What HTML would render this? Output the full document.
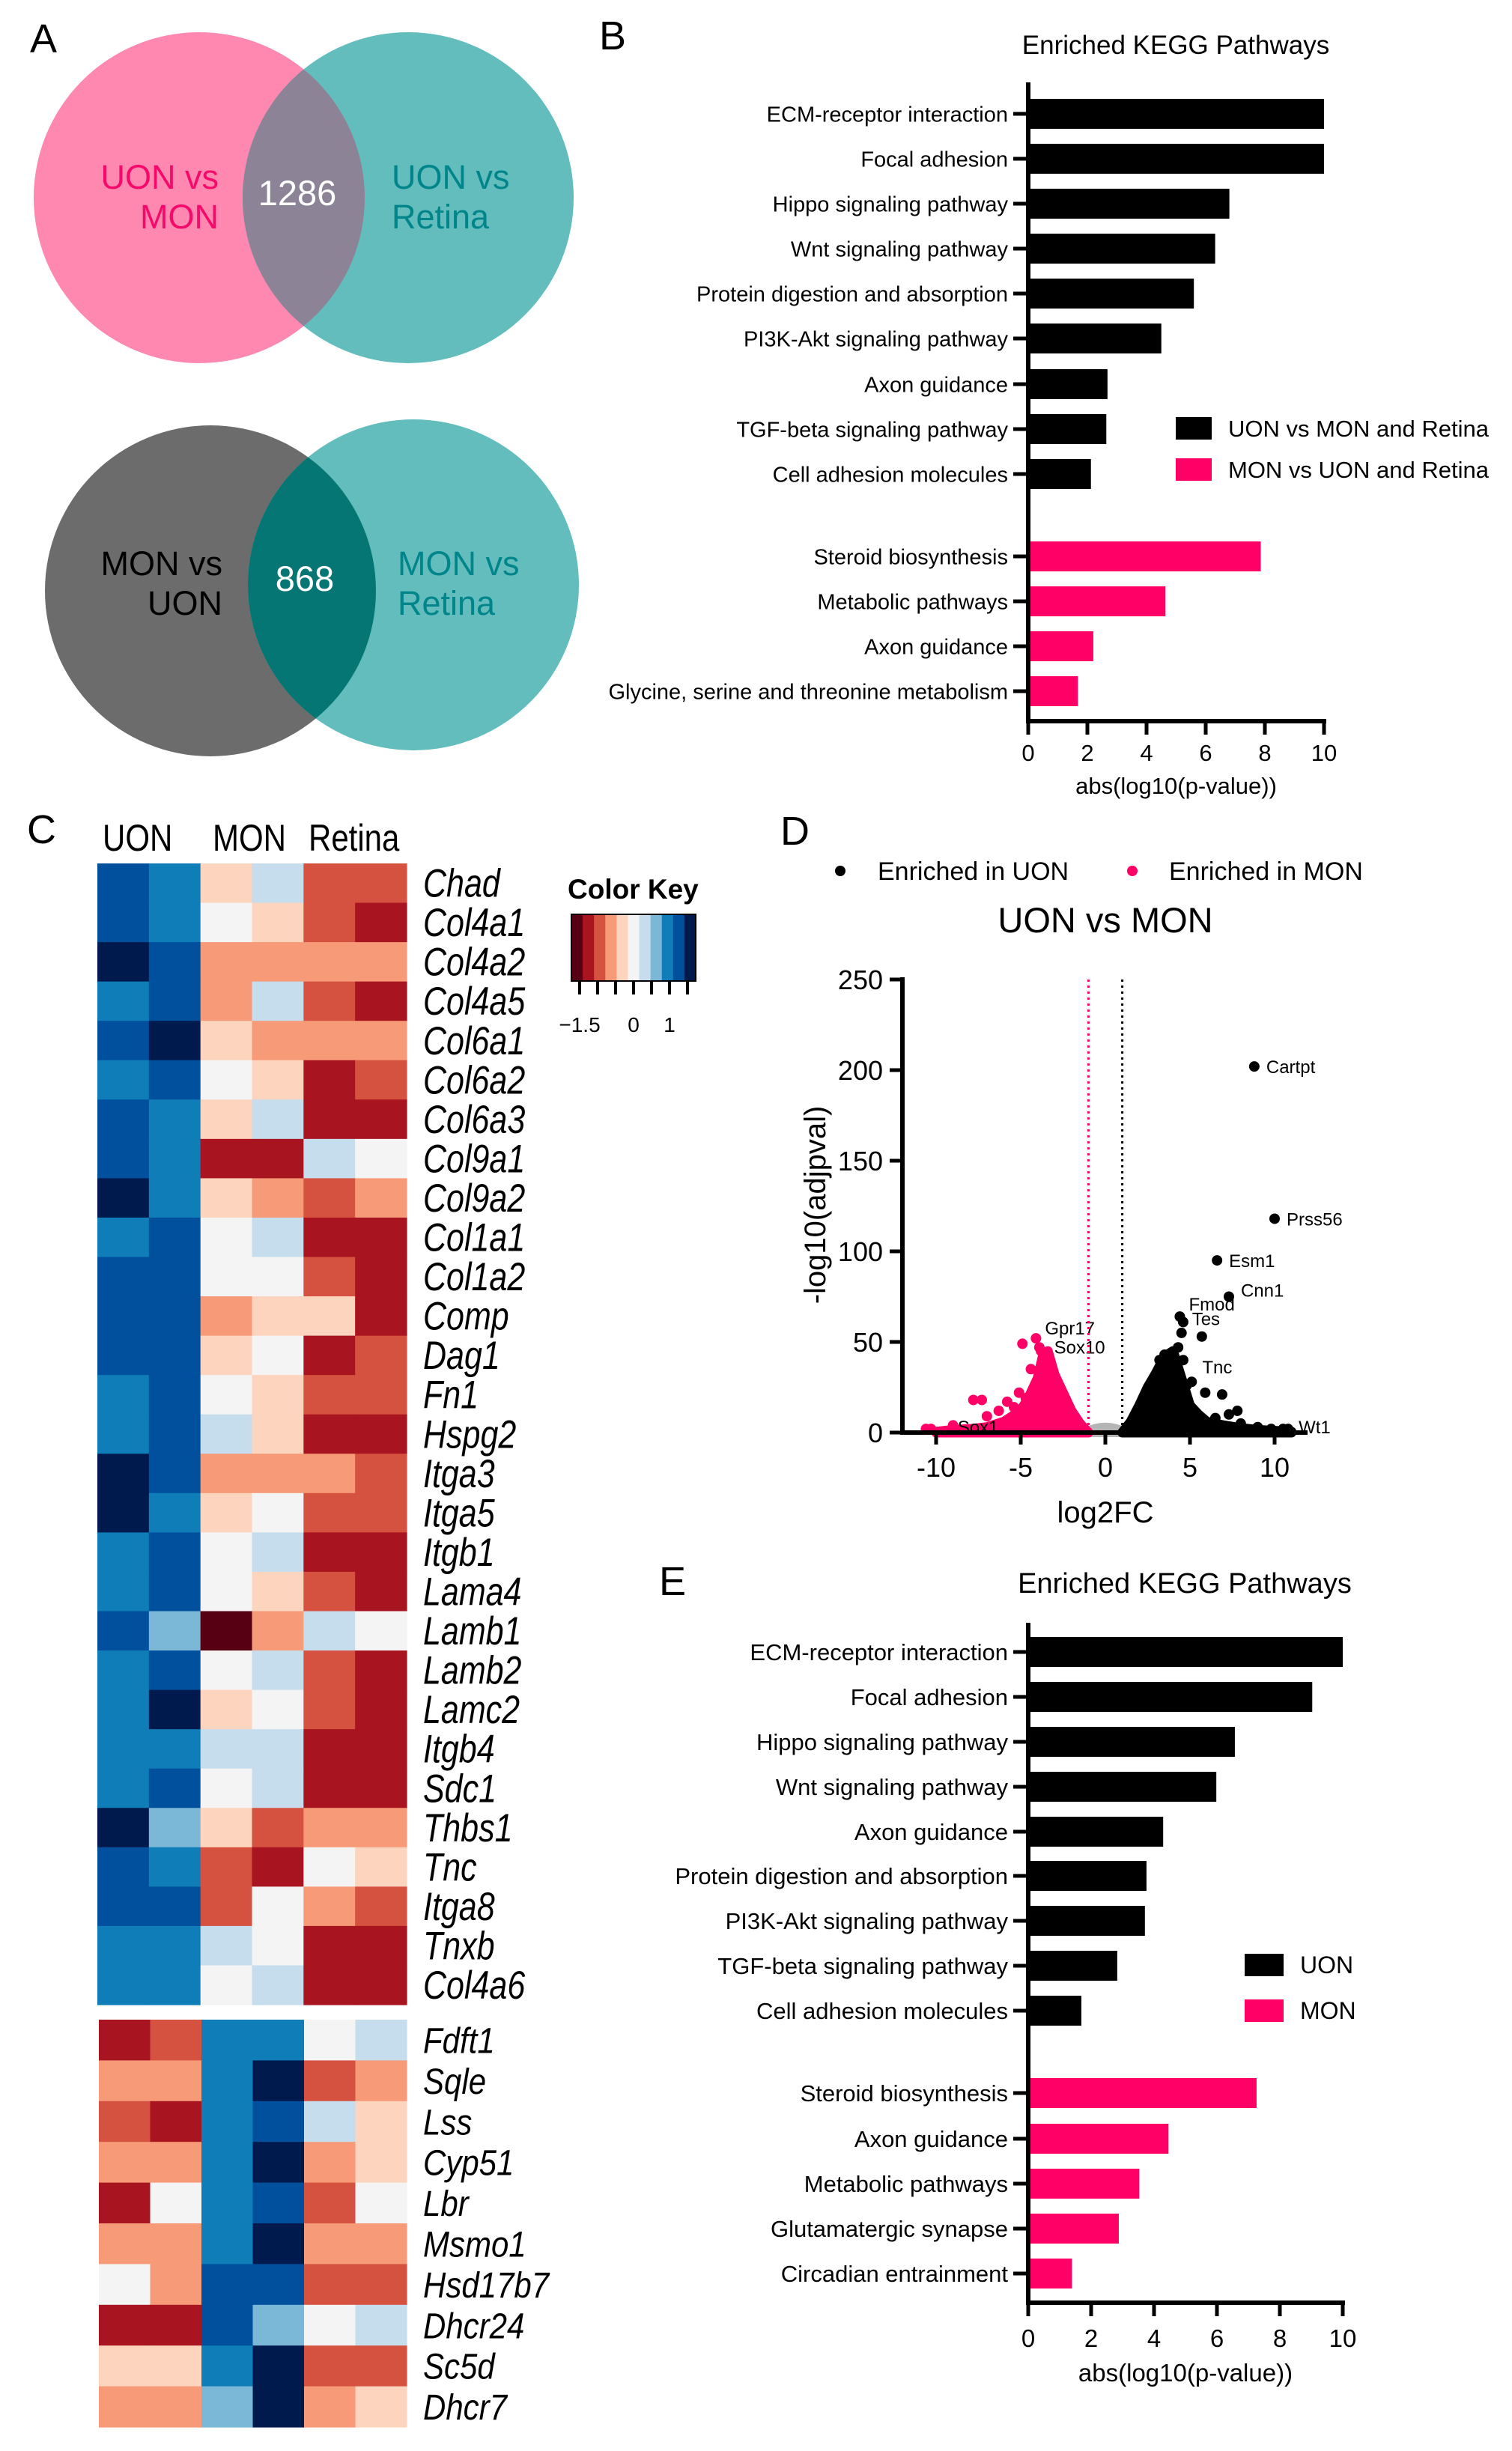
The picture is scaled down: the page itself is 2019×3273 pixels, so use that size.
<!DOCTYPE html>
<html><head><meta charset="utf-8"><style>
html,body{margin:0;padding:0;background:#fff;}
svg{display:block;font-family:"Liberation Sans",Arial,sans-serif;}
</style></head><body>
<svg id="fig" width="2019" height="3273" viewBox="0 0 2019 3273" xmlns="http://www.w3.org/2000/svg">
<g>
<text x="40" y="70" font-size="54">A</text>
<ellipse cx="266" cy="264" rx="221" ry="221" fill="#fe88b0"/>
<ellipse cx="545" cy="264" rx="221" ry="221" fill="#62bdbc"/>
<clipPath id="c1"><ellipse cx="266" cy="264" rx="221" ry="221"/></clipPath>
<ellipse cx="545" cy="264" rx="221" ry="221" fill="#8c8396" clip-path="url(#c1)"/>
<text x="292" y="252" font-size="45" fill="#f50a6b" text-anchor="end">UON vs</text>
<text x="292" y="305" font-size="45" fill="#f50a6b" text-anchor="end">MON</text>
<text x="397" y="274" font-size="47" fill="#fff" text-anchor="middle">1286</text>
<text x="523" y="252" font-size="45" fill="#00858a">UON vs</text>
<text x="523" y="305" font-size="45" fill="#00858a">Retina</text>

<ellipse cx="281" cy="789" rx="221" ry="221" fill="#6c6c6c"/>
<ellipse cx="552" cy="781" rx="221" ry="221" fill="#62bdbc"/>
<clipPath id="c2"><ellipse cx="281" cy="789" rx="221" ry="221"/></clipPath>
<ellipse cx="552" cy="781" rx="221" ry="221" fill="#057673" clip-path="url(#c2)"/>
<text x="297" y="768" font-size="45" fill="#000" text-anchor="end">MON vs</text>
<text x="297" y="821" font-size="45" fill="#000" text-anchor="end">UON</text>
<text x="407" y="789" font-size="47" fill="#fff" text-anchor="middle">868</text>
<text x="531" y="768" font-size="45" fill="#00858a">MON vs</text>
<text x="531" y="821" font-size="45" fill="#00858a">Retina</text>
</g>
<text x="800" y="66" font-size="54">B</text>
<text x="36" y="1126" font-size="54">C</text>
<text x="1042" y="1128" font-size="54">D</text>
<text x="880" y="2130" font-size="54">E</text>
<g id="gB"></g><g id="gC"></g><g id="gD"></g><g id="gE"></g>
</svg>
<script>
const bLabels = ["ECM-receptor interaction","Focal adhesion","Hippo signaling pathway","Wnt signaling pathway","Protein digestion and absorption","PI3K-Akt signaling pathway","Axon guidance","TGF-beta signaling pathway","Cell adhesion molecules","Steroid biosynthesis","Metabolic pathways","Axon guidance","Glycine, serine and threonine metabolism"];
const bValues = [10,10,6.8,6.32,5.6,4.5,2.68,2.64,2.12,7.86,4.64,2.2,1.68];
const bGroups = ["u","u","u","u","u","u","u","u","u","m","m","m","m"];
const eLabels = ["ECM-receptor interaction","Focal adhesion","Hippo signaling pathway","Wnt signaling pathway","Axon guidance","Protein digestion and absorption","PI3K-Akt signaling pathway","TGF-beta signaling pathway","Cell adhesion molecules","Steroid biosynthesis","Axon guidance","Metabolic pathways","Glutamatergic synapse","Circadian entrainment"];
const eValues = [10,9.03,6.57,5.98,4.29,3.76,3.71,2.83,1.69,7.26,4.46,3.53,2.88,1.39];
const eGroups = ["u","u","u","u","u","u","u","u","u","m","m","m","m","m"];
const xTicks = [0,2,4,6,8,10];
const hmGenes1 = ["Chad","Col4a1","Col4a2","Col4a5","Col6a1","Col6a2","Col6a3","Col9a1","Col9a2","Col1a1","Col1a2","Comp","Dag1","Fn1","Hspg2","Itga3","Itga5","Itgb1","Lama4","Lamb1","Lamb2","Lamc2","Itgb4","Sdc1","Thbs1","Tnc","Itga8","Tnxb","Col4a6"];
const hmValues1 = [
[4,3,-1,1,-3,-3],[4,3,0,-1,-3,-4],[5,4,-2,-2,-2,-2],[3,4,-2,1,-3,-4],[4,5,-1,-2,-2,-2],
[3,4,0,-1,-4,-3],[4,3,-1,1,-4,-4],[4,3,-4,-4,1,0],[5,3,-1,-2,-3,-2],[3,4,0,1,-4,-4],
[4,4,0,0,-3,-4],[4,4,-2,-1,-1,-4],[4,4,-1,0,-4,-3],[3,4,0,-1,-3,-3],[3,4,1,-1,-4,-4],
[5,4,-2,-2,-2,-3],[5,3,-1,0,-3,-3],[3,4,0,1,-4,-4],[3,4,0,-1,-3,-4],[4,2,-5,-2,1,0],
[3,4,0,1,-3,-4],[3,5,-1,0,-3,-4],[3,3,1,1,-4,-4],[3,4,0,1,-4,-4],[5,2,-1,-3,-2,-2],
[4,3,-3,-4,0,-1],[4,4,-3,0,-2,-3],[3,3,1,0,-4,-4],[3,3,0,1,-4,-4]];
const hmGenes2 = ["Fdft1","Sqle","Lss","Cyp51","Lbr","Msmo1","Hsd17b7","Dhcr24","Sc5d","Dhcr7"];
const hmValues2 = [
[-4,-3,3,3,0,1],[-2,-2,3,5,-3,-2],[-3,-4,3,4,1,-1],[-2,-2,3,5,-2,-1],[-4,0,3,4,-3,0],
[-2,-2,3,5,-2,-2],[0,-2,4,4,-3,-3],[-4,-4,4,2,0,1],[-1,-1,3,5,-3,-3],[-2,-2,2,5,-2,-1]];
const hmGroups = ["UON","MON","Retina"];
const keyTickLabels = ["−1.5","0","1"];
const vxTicks = [-10,-5,0,5,10];
const vyTicks = [0,50,100,150,200,250];
const monEnvelopeFC = [-1,-1.5,-2,-2.5,-3,-3.4,-3.7,-4,-4.5,-5,-6,-7,-8,-9,-10];
const monEnvelopeP = [0,5,12,22,32,45,42,30,20,12,6,3,2,1.5,0.5];
const uonEnvelopeFC = [1,1.5,2,2.5,3,3.5,4,4.5,5,5.5,6,7,8,9,10,11];
const uonEnvelopeP = [0,6,15,25,33,42,45,30,15,10,6,4,2.5,1.5,1,0.5];
const monPointFC = [-4.9,-4.1,-3.9,-3.8,-5.1,-4.7,-7.8,-7.3,-6.3,-7,-5.4,-9,-10.6,-10.3,-5.8,-3.6,-4.4];
const monPointP = [49,52,47,45,22,19,18,18,12,9,14,4,2,2,17,40,35];
const uonPointFC = [4.4,4.6,4.5,5.7,4.3,4.6,5.1,4.8,5.9,6.9,7.3,7.8,6.5,8,9,9.8,10.5,10.8,3.5,3.9,4.2,8.8,10,6.6,7.3,3.2,3.8];
const uonPointP = [64,61,55,53,47,40,28,26,22,21,10,12,8,5,3,2,2,2,43,44,38,202,118,95,75,40,36];
const geneLabels = ["Cartpt","Prss56","Esm1","Cnn1","Fmod","Tes","Tnc","Wt1","Gpr17","Sox10","Sox1"];
const geneFC = [8.8,10,6.6,7.3,4.4,4.5,5.9,10.8,-4.1,-4.0,-10.5];
const geneP = [202,118,95,75,64,61,22,2,52,47,2];

const NS="http://www.w3.org/2000/svg";
function mk(tag,attrs,parent,txt){const e=document.createElementNS(NS,tag);for(const k in attrs)e.setAttribute(k,attrs[k]);if(txt!==undefined)e.textContent=txt;parent.appendChild(e);return e;}
const PINK="#ff0066";

function barChart(g,cfg,labels,values,groups,legendNames){
  const xs=v=>cfg.x0+(cfg.x10-cfg.x0)*v/10;
  const t=mk('text',{x:cfg.titleX,y:cfg.titleY,'font-size':cfg.titleSize,'text-anchor':'middle'},g,"Enriched KEGG Pathways");
  
  
  labels.forEach((lab,i)=>{
    const y=cfg.rows[i];
    const r=mk('rect',{x:xs(0),y:y-cfg.bh/2,width:xs(values[i])-xs(0),height:cfg.bh,fill:groups[i]==="u"?"#000":PINK},g);
    
    
    mk('line',{x1:xs(0)-20,x2:xs(0),y1:y,y2:y,stroke:"#000","stroke-width":5},g);
    const tl=mk('text',{x:xs(0)-27,y:y+cfg.ls*0.36,'font-size':cfg.ls,'text-anchor':'end'},g,lab);
    
    
  });
  const ya=mk('line',{x1:xs(0),x2:xs(0),y1:cfg.axTop,y2:cfg.axBot,stroke:"#000","stroke-width":6},g);
  
  
  const xa=mk('line',{x1:xs(0)-3,x2:xs(10)+3,y1:cfg.axBot,y2:cfg.axBot,stroke:"#000","stroke-width":6},g);
  
  
  xTicks.forEach(v=>{
    mk('line',{x1:xs(v),x2:xs(v),y1:cfg.axBot,y2:cfg.axBot+18,stroke:"#000","stroke-width":5},g);
    const tt=mk('text',{x:xs(v),y:cfg.tickY,'font-size':cfg.ls+2,'text-anchor':'middle'},g,String(v));
    
    
  });
  const at=mk('text',{x:(xs(0)+xs(10))/2,y:cfg.axTitleY,'font-size':cfg.ls+2,'text-anchor':'middle'},g,"abs(log10(p-value))");
  
  
  legendNames.forEach((n,i)=>{
    const ly=cfg.legY[i];
    const sw=mk('rect',{x:cfg.legX,y:ly-15,width:cfg.legW,height:30,fill:i===0?"#000":PINK},g);
    
    
    const lt=mk('text',{x:cfg.legX+cfg.legW+22,y:ly+11,'font-size':cfg.legSize},g,n);
    
    
  });
}
barChart(document.getElementById('gB'),{x0:1373,x10:1768,titleX:1570,titleY:72,titleSize:35,bh:40,ls:29,axTop:110,axBot:963,tickY:1016,axTitleY:1060,legX:1570,legW:48,legY:[572,627],legSize:31,
 rows:[152,212,272,332,392,452,513,573,633,743,803,863,923]},bLabels,bValues,bGroups,["UON vs MON and Retina","MON vs UON and Retina"]);
barChart(document.getElementById('gE'),{x0:1373,x10:1793,titleX:1582,titleY:2127,titleSize:38,bh:40,ls:31,axTop:2167,axBot:3075,tickY:3134,axTitleY:3180,legX:1662,legW:52,legY:[2624,2685],legSize:32,
 rows:[2206,2266,2326,2386,2446,2505,2565,2625,2685,2795,2856,2916,2976,3036]},eLabels,eValues,eGroups,["UON","MON"]);

const palette={"-5":"#570014","-4":"#a8141f","-3":"#d55140","-2":"#f69a77","-1":"#fdd4bd","0":"#f4f4f4","1":"#c5dded","2":"#7bb7d6","3":"#0f7db7","4":"#00509e","5":"#001a4d"};
(function(){
  const g=document.getElementById('gC');
  hmGroups.forEach((n,i)=>{
    const t=mk('text',{x:0,y:0,'font-size':42,transform:`translate(${i==0?137:i==1?284:412},1136) scale(1,1.2)`},g,n);
    
    
  });
  function block(genes,vals,x0,x1,y0,y1,sy,fs){
    const cw=(x1-x0)/6,rh=(y1-y0)/genes.length;
    genes.forEach((gn,r)=>{
      vals[r].forEach((v,c)=>{
        const rc=mk('rect',{x:x0+c*cw,y:y0+r*rh,width:cw+0.6,height:rh+0.6,fill:palette[String(v)]},g);
        
        
      });
      const t=mk('text',{x:0,y:0,'font-size':fs,'font-style':'italic',transform:`translate(565,${y0+(r+0.5)*rh+15*sy}) scale(1,${sy})`},g,gn);
      
      
    });
  }
  block(hmGenes1,hmValues1,130,543,1153,2677,1.22,43);
  block(hmGenes2,hmValues2,132,543,2697,3241,1.15,42);
  const kt=mk('text',{x:758,y:1200,'font-size':37,'font-weight':'bold'},g,"Color Key");
  
  
  const keys=[-5,-4,-3,-2,-1,0,1,2,3,4,5];
  const kw=(929-763)/11;
  keys.forEach((k,i)=>{
    const r=mk('rect',{x:763+i*kw,y:1221,width:kw+0.5,height:89,fill:palette[String(k)]},g);
    
    
  });
  mk('rect',{x:763,y:1221,width:166,height:89,fill:"none",stroke:"#000","stroke-width":2},g);
  [774,798,822,846,870,894,918].forEach(x=>mk('line',{x1:x,x2:x,y1:1310,y2:1328,stroke:"#000","stroke-width":4},g));
  [[774,0],[846,1],[894,2]].forEach(([x,i])=>{
    const t=mk('text',{x:x,y:1378,'font-size':28,'text-anchor':'middle'},g,keyTickLabels[i]);
    
    
  });
})();

(function(){
  const g=document.getElementById('gD');
  const X=v=>1476+22.6*v, Y=v=>1913-2.42*v;
  const ld1=mk('circle',{cx:1122,cy:1163,r:7,fill:"#000"},g);
  
  const lt1=mk('text',{x:1172,y:1175,'font-size':34},g,"Enriched in UON");
  
  const ld2=mk('circle',{cx:1512,cy:1163,r:7,fill:PINK},g);
  
  const lt2=mk('text',{x:1561,y:1175,'font-size':34},g,"Enriched in MON");
  
  const tt=mk('text',{x:1476,y:1245,'font-size':47,'text-anchor':'middle'},g,"UON vs MON");
  
  const gp=mk('path',{d:`M${X(-1.2)},${Y(0)} Q${X(0)},${Y(6)} ${X(1.2)},${Y(0)} Z`,fill:"#b5b5b5",stroke:"#b5b5b5","stroke-width":12,"stroke-linejoin":"round"},g);
  
  function env(fc,p,col,name){
    let d=`M${X(fc[0])},${Y(0)}`;
    fc.forEach((f,i)=>d+=` L${X(f)},${Y(p[i])}`);
    d+=` L${X(fc[fc.length-1])},${Y(0)} Z`;
    const e=mk('path',{d,fill:col,stroke:col,"stroke-width":13,"stroke-linejoin":"round"},g);
    
    
  }
  env(monEnvelopeFC,monEnvelopeP,PINK,'mon-enriched-cloud');
  env(uonEnvelopeFC,uonEnvelopeP,"#000",'uon-enriched-cloud');
  monPointFC.forEach((f,i)=>{
    const c=mk('circle',{cx:X(f),cy:Y(monPointP[i]),r:7,fill:PINK},g);
    
    
  });
  uonPointFC.forEach((f,i)=>{
    const c=mk('circle',{cx:X(f),cy:Y(uonPointP[i]),r:7,fill:"#000"},g);
    
    
  });
  const off={Cartpt:[16,9],Prss56:[16,9],Esm1:[16,9],Cnn1:[16,0],Fmod:[12,-8],Tes:[14,4],Tnc:[-4,-26],Wt1:[14,6],Gpr17:[12,-5],Sox10:[22,8],Sox1:[40,6]};
  geneLabels.forEach((n,i)=>{
    const o=off[n];
    const t=mk('text',{x:X(geneFC[i])+o[0],y:Y(geneP[i])+o[1],'font-size':24},g,n);
    
    
  });
  const d1=mk('line',{x1:X(-1),x2:X(-1),y1:Y(250),y2:Y(0),stroke:PINK,"stroke-width":3,"stroke-dasharray":"3,5"},g);
  
  const d2=mk('line',{x1:X(1),x2:X(1),y1:Y(250),y2:Y(0),stroke:"#000","stroke-width":3,"stroke-dasharray":"3,5"},g);
  
  const ya=mk('line',{x1:1205,x2:1205,y1:Y(250)-3,y2:Y(0)+3,stroke:"#000","stroke-width":6},g);
  
  const xa=mk('line',{x1:1205,x2:1746,y1:Y(0),y2:Y(0),stroke:"#000","stroke-width":6},g);
  
  vyTicks.forEach(v=>{
    mk('line',{x1:1188,x2:1205,y1:Y(v),y2:Y(v),stroke:"#000","stroke-width":5},g);
    const t=mk('text',{x:1179,y:Y(v)+13,'font-size':36,'text-anchor':'end'},g,String(v));
    
  });
  vxTicks.forEach(v=>{
    mk('line',{x1:X(v),x2:X(v),y1:Y(0),y2:Y(0)+16,stroke:"#000","stroke-width":5},g);
    const t=mk('text',{x:X(v),y:1972,'font-size':36,'text-anchor':'middle'},g,String(v));
    
  });
  const xt=mk('text',{x:1476,y:2033,'font-size':40,'text-anchor':'middle'},g,"log2FC");
  
  const yt=mk('text',{x:0,y:0,'font-size':40,'text-anchor':'middle',transform:'translate(1102,1609) rotate(-90)'},g,"-log10(adjpval)");
  
})();
</script>
</body></html>
